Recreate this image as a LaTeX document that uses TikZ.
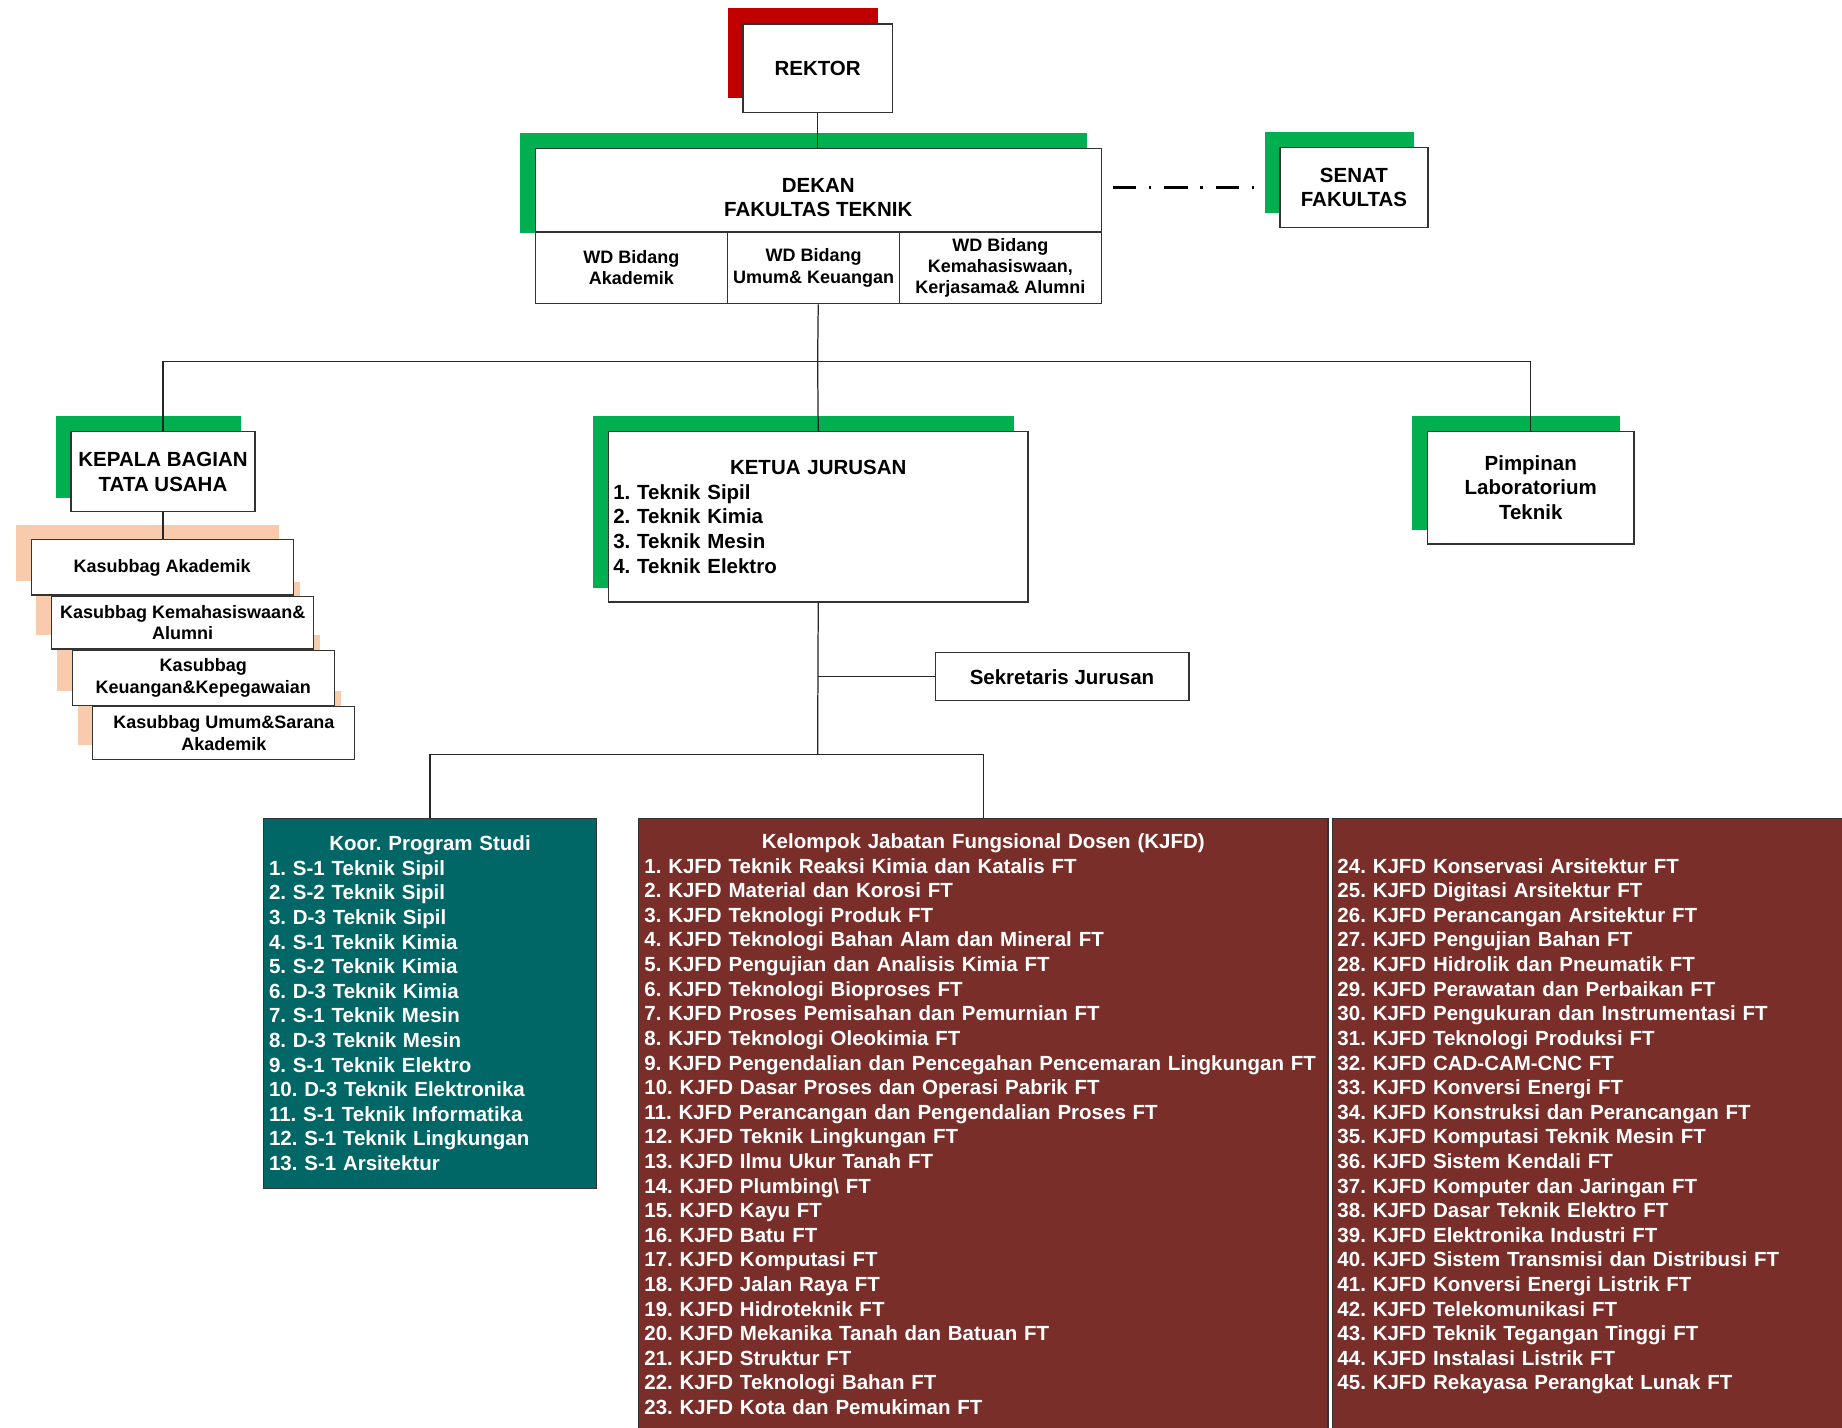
\documentclass[tikz,border=0pt]{standalone}
\usepackage{fontspec}
\setmainfont{Liberation Sans}
\usepackage{tikz}
\usetikzlibrary{positioning, calc, backgrounds}
\usepackage{xcolor}
\definecolor{ftgreen}{RGB}{0,176,80}
\definecolor{ftred}{RGB}{192,0,0}
\definecolor{ftpeach}{RGB}{248,203,173}
\definecolor{ftteal}{RGB}{0,102,102}
\definecolor{ftmaroon}{RGB}{122,46,41}
\newlength{\pxu}
\setlength{\pxu}{0.025cm}
\newcommand{\hdfont}{\fontsize{12.4}{14.9}\selectfont\bfseries}
\newcommand{\smfont}{\fontsize{10.9}{12.8}\selectfont\bfseries}
\frenchspacing

\begin{document}
\begin{tikzpicture}[x=0.025cm, y=-0.025cm,
    box/.style={draw=black!80, fill=white, line width=0.75pt, anchor=north west,
                inner sep=0pt, align=center, font=\hdfont},
    subbox/.style={box, font=\smfont},
    listbox/.style={box, align=left, text=white, inner xsep=4.5*\pxu},
    link/.style={draw=black!85, line width=0.75pt},
    senatlink/.style={draw=black, line width=1.6pt,
                      dash pattern=on 14.2pt off 7.8pt on 1.4pt off 7.8pt}]
        \useasboundingbox (0,0) rectangle (1568,1215);
        % Rektor
        \node[box, minimum width=127*\pxu, minimum height=75*\pxu]
          (rektor) at (632,20) {REKTOR};
        % Dekan and the three WD
        \node[box, minimum width=482*\pxu, minimum height=71*\pxu]
          (dekan) at (455,126) {\rule{0pt}{17.4pt}DEKAN\\FAKULTAS TEKNIK};
        \node[subbox, minimum width=164*\pxu, minimum height=61*\pxu]
          (wdak) at (455,197) {WD Bidang\\Akademik};
        \node[subbox, minimum width=146*\pxu, minimum height=61*\pxu]
          (wdum) at (619,197) {WD Bidang\\Umum\& Keuangan};
        \node[subbox, minimum width=172*\pxu, minimum height=61*\pxu]
          (wdkm) at (765,197) {WD Bidang\\Kemahasiswaan,\\Kerjasama\& Alumni};
        % Senat
        \node[box, minimum width=126*\pxu, minimum height=68*\pxu]
          (senat) at (1089,125) {SENAT\\FAKULTAS};
        % Tata usaha
        \node[box, minimum width=156.5*\pxu, minimum height=68*\pxu]
          (kabag) at (60,367) {KEPALA BAGIAN\\TATA USAHA};
        \node[subbox, minimum width=223*\pxu, minimum height=47*\pxu]
          (ksakad) at (26,459) {Kasubbag Akademik};
        \node[subbox, minimum width=223*\pxu, minimum height=44.5*\pxu]
          (ksmhs) at (43.5,507.5) {Kasubbag Kemahasiswaan\&\\Alumni};
        \node[subbox, minimum width=223*\pxu, minimum height=47*\pxu]
          (kskeu) at (61,553) {Kasubbag\\Keuangan\&Kepegawaian};
        \node[subbox, minimum width=223*\pxu, minimum height=45*\pxu]
          (ksumum) at (78.5,601) {Kasubbag Umum\&Sarana\\Akademik};
        % Ketua jurusan
        \node[box, align=left, text width=349*\pxu, inner xsep=4*\pxu, minimum height=145*\pxu]
          (kajur) at (517.5,367) {\makebox[\linewidth]{KETUA JURUSAN}\\1. Teknik Sipil\\2. Teknik Kimia\\3. Teknik Mesin\\4. Teknik Elektro};
        \node[box, minimum width=216*\pxu, minimum height=41*\pxu]
          (sekjur) at (795.5,555) {Sekretaris Jurusan};
        % Laboratorium
        \node[box, minimum width=176*\pxu, minimum height=96*\pxu]
          (lab) at (1214.5,366.5) {Pimpinan\\Laboratorium\\Teknik};
        % Program studi
        \node[listbox, fill=ftteal, text width=274*\pxu, minimum height=315*\pxu]
          (prodi) at (224,696) {\makebox[\linewidth]{Koor. Program Studi}\\
            1. S-1 Teknik Sipil\\2. S-2 Teknik Sipil\\3. D-3 Teknik Sipil\\
            4. S-1 Teknik Kimia\\5. S-2 Teknik Kimia\\6. D-3 Teknik Kimia\\
            7. S-1 Teknik Mesin\\8. D-3 Teknik Mesin\\9. S-1 Teknik Elektro\\
            10. D-3 Teknik Elektronika\\11. S-1 Teknik Informatika\\
            12. S-1 Teknik Lingkungan\\13. S-1 Arsitektur};
        % KJFD (runs off the page)
        \node[listbox, fill=ftmaroon, text width=577*\pxu, inner xsep=5*\pxu, minimum height=525*\pxu]
          (kjfd) at (543,696) {\makebox[\linewidth]{\strut Kelompok Jabatan Fungsional Dosen (KJFD)}\\
            1. KJFD Teknik Reaksi Kimia dan Katalis FT\\
            2. KJFD Material dan Korosi FT\\
            3. KJFD Teknologi Produk FT\\
            4. KJFD Teknologi Bahan Alam dan Mineral FT\\
            5. KJFD Pengujian dan Analisis Kimia FT\\
            6. KJFD Teknologi Bioproses FT\\
            7. KJFD Proses Pemisahan dan Pemurnian FT\\
            8. KJFD Teknologi Oleokimia FT\\
            9. KJFD Pengendalian dan Pencegahan Pencemaran Lingkungan FT\\
            10. KJFD Dasar Proses dan Operasi Pabrik FT\\
            11. KJFD Perancangan dan Pengendalian Proses FT\\
            12. KJFD Teknik Lingkungan FT\\
            13. KJFD Ilmu Ukur Tanah FT\\
            14. KJFD Plumbing\textbackslash{} FT\\
            15. KJFD Kayu FT\\
            16. KJFD Batu FT\\
            17. KJFD Komputasi FT\\
            18. KJFD Jalan Raya FT\\
            19. KJFD Hidroteknik FT\\
            20. KJFD Mekanika Tanah dan Batuan FT\\
            21. KJFD Struktur FT\\
            22. KJFD Teknologi Bahan FT\\
            23. KJFD Kota dan Pemukiman FT\strut};
        \node[listbox, fill=ftmaroon, text width=451*\pxu, minimum height=525*\pxu]
          (kjfdb) at (1133.5,696) {\strut\\
            24. KJFD Konservasi Arsitektur FT\\
            25. KJFD Digitasi Arsitektur FT\\
            26. KJFD Perancangan Arsitektur FT\\
            27. KJFD Pengujian Bahan FT\\
            28. KJFD Hidrolik dan Pneumatik FT\\
            29. KJFD Perawatan dan Perbaikan FT\\
            30. KJFD Pengukuran dan Instrumentasi FT\\
            31. KJFD Teknologi Produksi FT\\
            32. KJFD CAD-CAM-CNC FT\\
            33. KJFD Konversi Energi FT\\
            34. KJFD Konstruksi dan Perancangan FT\\
            35. KJFD Komputasi Teknik Mesin FT\\
            36. KJFD Sistem Kendali FT\\
            37. KJFD Komputer dan Jaringan FT\\
            38. KJFD Dasar Teknik Elektro FT\\
            39. KJFD Elektronika Industri FT\\
            40. KJFD Sistem Transmisi dan Distribusi FT\\
            41. KJFD Konversi Energi Listrik FT\\
            42. KJFD Telekomunikasi FT\\
            43. KJFD Teknik Tegangan Tinggi FT\\
            44. KJFD Instalasi Listrik FT\\
            45. KJFD Rekayasa Perangkat Lunak FT\\
            \strut};
        % Lines
        \coordinate (hubtop) at (696,307.5);
        \coordinate (hubbot) at (696,642);
        \draw[link] (rektor.south) -- (rektor.south |- dekan.north);
        \draw[link] (dekan.south |- wdum.south) -- (hubtop);
        \draw[link] (kabag.north) |- (hubtop) -| (lab.north);
        \draw[link] (hubtop) -- (kajur.north);
        \draw[link] (kabag.south) -- (kabag.south |- ksakad.north);
        \draw[link] (kajur.south) -- (hubbot);
        \draw[link] (sekjur.west) -- (sekjur.west -| hubbot);
        \draw[link] (prodi.north) |- (hubbot) -| (kjfd.north);
        \draw[senatlink, shorten <=6.4pt, shorten >=14.9pt] (dekan.east |- senat.west) -- (senat.west);
        % Shadows
        \begin{scope}[on background layer]
          \fill[white] (0,0) rectangle (1568,1215);
          \fill[ftred] ([shift={(-12.5,-13)}]rektor.north west) rectangle ([shift={(-12.5,-13)}]rektor.south east);
          \fill[ftgreen] ([shift={(-12.5,-13)}]dekan.north west) rectangle ([shift={(-12.5,0)}]dekan.south east);
          \fill[ftgreen] ([shift={(-12.5,-12.5)}]senat.north west) rectangle ([shift={(-12.5,-12.5)}]senat.south east);
          \fill[ftgreen] ([shift={(-12.5,-12.5)}]kabag.north west) rectangle ([shift={(-12.5,-12.5)}]kabag.south east);
          \fill[ftgreen] ([shift={(-12.5,-12.5)}]kajur.north west) rectangle ([shift={(-12.5,-12.5)}]kajur.south east);
          \fill[ftgreen] ([shift={(-12.5,-12.5)}]lab.north west) rectangle ([shift={(-12.5,-12.5)}]lab.south east);
          \fill[ftpeach] ([shift={(-12.5,-12.5)}]ksakad.north west) rectangle ([shift={(-12.5,-12.5)}]ksakad.south east);
          \fill[ftpeach] ([shift={(-12.5,-12.5)}]ksmhs.north west) rectangle ([shift={(-12.5,-12.5)}]ksmhs.south east);
          \fill[ftpeach] ([shift={(-12.5,-12.5)}]kskeu.north west) rectangle ([shift={(-12.5,-12.5)}]kskeu.south east);
          \fill[ftpeach] ([shift={(-12.5,-12.5)}]ksumum.north west) rectangle ([shift={(-12.5,-12.5)}]ksumum.south east);
        \end{scope}
      \end{tikzpicture}
\end{document}
